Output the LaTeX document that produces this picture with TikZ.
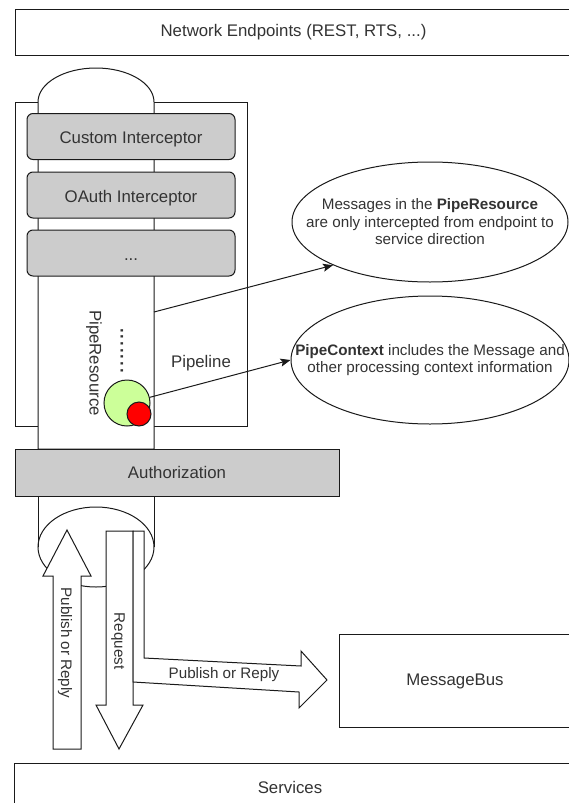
\documentclass[tikz,border=0pt]{standalone}
\usepackage{fontspec}
\setmainfont{Liberation Sans}
\usepackage{xcolor}
\usepackage{tikz}
\usetikzlibrary{arrows.meta,shapes.geometric}
\definecolor{linec}{HTML}{1A1A1A}
\definecolor{txtc}{HTML}{333333}
\definecolor{boxg}{HTML}{CCCCCC}
\definecolor{ctxg}{HTML}{CCFF99}
\definecolor{msgr}{HTML}{FF0000}
\newcommand{\mainsz}{\fontsize{16.8}{20}\selectfont}
\newcommand{\smallsz}{\fontsize{15.2}{17.5}\selectfont}
\tikzset{
  ln/.style={draw=linec,line width=1pt},
  plain/.style={ln,fill=white,inner sep=0pt,font=\mainsz,text=txtc},
  icpt/.style={ln,fill=boxg,rounded corners=6pt,minimum width=208pt,minimum height=46pt,
    text height=14pt,text depth=0pt,font=\mainsz,text=txtc},
  note/.style={ellipse,ln,fill=white,inner sep=0pt},
  lbl/.style={font=\mainsz,text=txtc,inner sep=0pt},
  slbl/.style={font=\smallsz,text=txtc,inner sep=0pt},
  notetxt/.style={slbl,align=center},
  fat/.style={ln,fill=white,line join=miter},
  ar/.style={-{Stealth[length=10pt,width=8pt,inset=2pt]},line width=1pt,linec}
}

\begin{document}
\begin{tikzpicture}[x=1pt,y=-1pt]
\useasboundingbox (0,0) rectangle (569,803);
\clip (0,0) rectangle (569,803);
\draw[ln] (15,9.5) rectangle (620,55.5);
\node[lbl] (net) at (293.5,32.5) {Network Endpoints (REST, RTS, ...)};
\draw[ln] (15,102) rectangle (247,426);
\draw[ln,fill=white] (38,449) -- (38,102) arc[start angle=180,end angle=360,x radius=58,y radius=34] -- (154,449) -- cycle;
\node[icpt] (cust) at (131,136.5) {Custom Interceptor};
\node[icpt] (oauth) at (131,195) {OAuth Interceptor};
\node[icpt] (more) at (131,253) {...};
\node[lbl] (pipe) at (201,363) {Pipeline};
\node[lbl,rotate=-90] (res) at (94,363) {PipeResource};
\node[lbl,font=\fontsize{24}{28}\selectfont,rotate=-90] (dots) at (122,350.5) {.......};
\node[circle,ln,fill=ctxg,minimum size=46pt,inner sep=0pt] (ctx) at (127,403) {};
\node[circle,ln,fill=msgr,minimum size=24pt,inner sep=0pt] (msg) at (139,414) {};
\coordinate (resR) at (154,312);
\node[plain,fill=boxg,minimum width=324pt,minimum height=47pt] (auth) at (177,472.5) {Authorization};
\draw[ln] (38,496) -- (38,547) (154,496) -- (154,547);
\draw[ln] (96,547) ellipse[x radius=58,y radius=40];
\draw[fat] (53,749) -- (53,576) -- (43,576) -- (67,530) -- (91,576) -- (81,576) -- (81,749) -- cycle;
\draw[fat] (106,531) -- (133,531) -- (133,705) -- (143,705) -- (119,749) -- (96,705) -- (106,705) -- cycle;
\draw[fat] (133,531) -- (144,531) -- (144,658) -- (301,666) -- (301,651) -- (327,680) -- (299,708) -- (299,692) -- (133,682) -- cycle;
\node[slbl,rotate=-90] (pubup) at (65,643) {Publish or Reply};
\node[slbl,rotate=-90] (req) at (118,641) {Request};
\node[slbl] (pubmb) at (224,675) {Publish or Reply};
\draw[ln] (339,634) rectangle (620,727);
\node[lbl] (bus) at (455,681) {MessageBus};
\draw[ln] (14,763) rectangle (620,840);
\node[lbl] (svc) at (290,787) {Services};
\node[note,minimum width=276pt,minimum height=120pt] (note1) at (430,222) {};
\node[notetxt] (t1) at (note1.center) {Messages in the \textbf{PipeResource}\\are only intercepted from endpoint to\\service direction};
\node[note,minimum width=278pt,minimum height=128pt] (note2) at (430,360) {};
\node[notetxt] (t2) at (note2.center) {\textbf{PipeContext} includes the Message and\\other processing context information};
\draw[ar] (resR) -- (note1.204);
\draw[ar] (ctx.14) -- (note2.west);
\end{tikzpicture}
\end{document}
